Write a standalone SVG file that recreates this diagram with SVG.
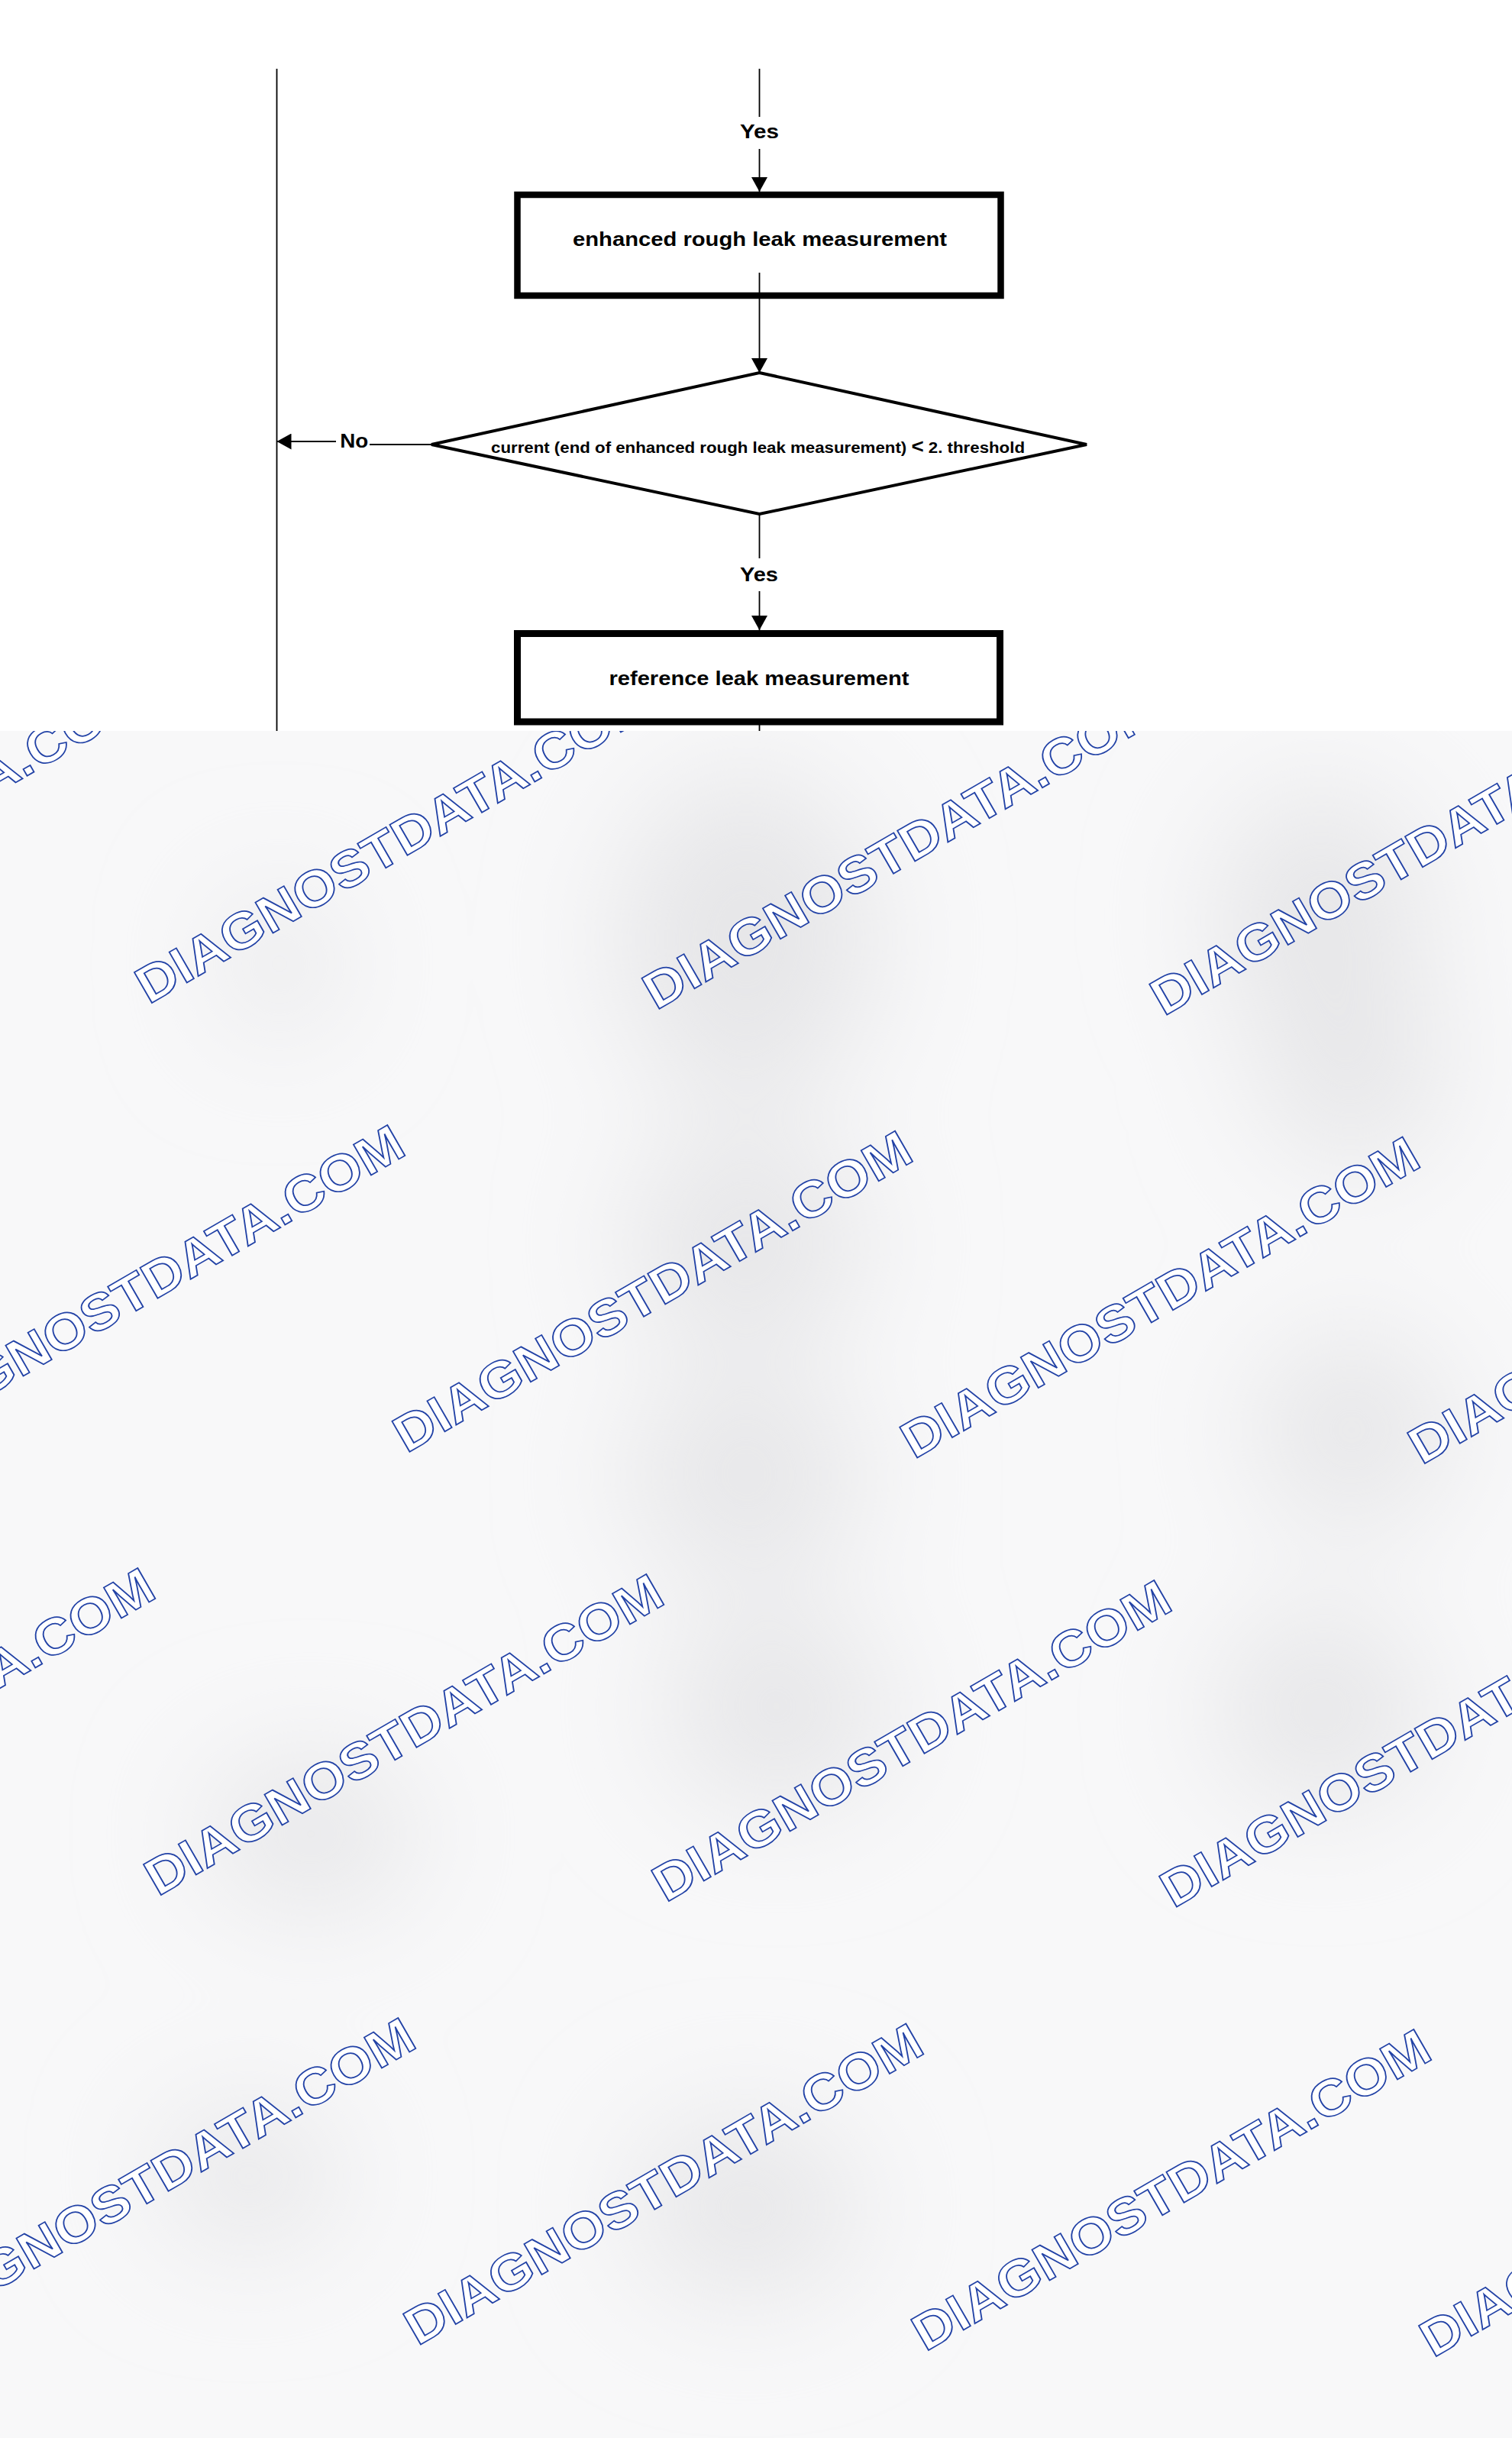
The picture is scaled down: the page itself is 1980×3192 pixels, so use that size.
<svg xmlns="http://www.w3.org/2000/svg" width="1980" height="3192" viewBox="0 0 1980 3192">
  <defs>
    <style>
      .node { fill: #ffffff; stroke: #000000; }
      .box { stroke-width: 8.5; stroke-linejoin: miter; }
      .dia { stroke-width: 4; stroke-linejoin: miter; }
      .lbl { font-family: "Liberation Sans", Arial, sans-serif; font-weight: bold; fill: #000000; text-anchor: middle; }
      .conn { fill: none; stroke: #000000; stroke-width: 1.8; }
      .wm { font-family: "Liberation Sans", Arial, sans-serif; font-weight: bold; font-size: 67px; fill: #ffffff; stroke: #2242a6; stroke-width: 1.7; }
    </style>
    <marker id="arr" viewBox="0 0 19 21" refX="19" refY="10.5" markerWidth="19" markerHeight="21" markerUnits="userSpaceOnUse" orient="auto">
      <path d="M0,0 L19,10.5 L0,21 z" fill="#000000"/>
    </marker>
    <clipPath id="lower">
      <rect x="0" y="957" width="1980" height="2235"/>
    </clipPath>
    <filter id="soft" x="-50%" y="-50%" width="200%" height="200%">
      <feGaussianBlur stdDeviation="80"/>
    </filter>
  </defs>

  <rect x="0" y="0" width="1980" height="3192" fill="#ffffff"/>

  <g id="background" clip-path="url(#lower)">
    <rect x="0" y="957" width="1980" height="2235" fill="#f8f8f9"/>
    <g filter="url(#soft)" fill="#e6e6e8">
      <ellipse cx="977" cy="1230" rx="170" ry="220"/>
      <ellipse cx="1730" cy="1200" rx="140" ry="170"/>
      <ellipse cx="366" cy="1262" rx="70" ry="90"/>
      <ellipse cx="977" cy="1628" rx="160" ry="140"/>
      <ellipse cx="1770" cy="1400" rx="120" ry="130"/>
      <ellipse cx="1770" cy="1872" rx="130" ry="130"/>
      <ellipse cx="977" cy="1933" rx="160" ry="130"/>
      <ellipse cx="407" cy="2401" rx="140" ry="100"/>
      <ellipse cx="326" cy="2849" rx="120" ry="90"/>
      <ellipse cx="1017" cy="2238" rx="150" ry="130"/>
      <ellipse cx="1730" cy="2238" rx="140" ry="130"/>
      <ellipse cx="977" cy="2890" rx="150" ry="120"/>
    </g>
  </g>

  <g id="watermark" clip-path="url(#lower)">
    <text class="wm" transform="translate(-465.7,1305.3) rotate(-30)" x="-5" y="0" textLength="770" lengthAdjust="spacingAndGlyphs">DIAGNOSTDATA.COM</text>
    <text class="wm" transform="translate(199,1313) rotate(-30)" x="-5" y="0" textLength="770" lengthAdjust="spacingAndGlyphs">DIAGNOSTDATA.COM</text>
    <text class="wm" transform="translate(863.7,1320.7) rotate(-30)" x="-5" y="0" textLength="770" lengthAdjust="spacingAndGlyphs">DIAGNOSTDATA.COM</text>
    <text class="wm" transform="translate(1528.4,1328.4) rotate(-30)" x="-5" y="0" textLength="770" lengthAdjust="spacingAndGlyphs">DIAGNOSTDATA.COM</text>

    <text class="wm" transform="translate(-128,1893) rotate(-30)" x="-5" y="0" textLength="770" lengthAdjust="spacingAndGlyphs">DIAGNOSTDATA.COM</text>
    <text class="wm" transform="translate(536.7,1900.7) rotate(-30)" x="-5" y="0" textLength="770" lengthAdjust="spacingAndGlyphs">DIAGNOSTDATA.COM</text>
    <text class="wm" transform="translate(1201.4,1908.4) rotate(-30)" x="-5" y="0" textLength="770" lengthAdjust="spacingAndGlyphs">DIAGNOSTDATA.COM</text>
    <text class="wm" transform="translate(1866.1,1916.1) rotate(-30)" x="-5" y="0" textLength="770" lengthAdjust="spacingAndGlyphs">DIAGNOSTDATA.COM</text>

    <text class="wm" transform="translate(-455,2473) rotate(-30)" x="-5" y="0" textLength="770" lengthAdjust="spacingAndGlyphs">DIAGNOSTDATA.COM</text>
    <text class="wm" transform="translate(211,2481) rotate(-30)" x="-5" y="0" textLength="770" lengthAdjust="spacingAndGlyphs">DIAGNOSTDATA.COM</text>
    <text class="wm" transform="translate(876,2489) rotate(-30)" x="-5" y="0" textLength="770" lengthAdjust="spacingAndGlyphs">DIAGNOSTDATA.COM</text>
    <text class="wm" transform="translate(1541,2496.5) rotate(-30)" x="-5" y="0" textLength="770" lengthAdjust="spacingAndGlyphs">DIAGNOSTDATA.COM</text>

    <text class="wm" transform="translate(-114,3062) rotate(-30)" x="-5" y="0" textLength="770" lengthAdjust="spacingAndGlyphs">DIAGNOSTDATA.COM</text>
    <text class="wm" transform="translate(551,3069.5) rotate(-30)" x="-5" y="0" textLength="770" lengthAdjust="spacingAndGlyphs">DIAGNOSTDATA.COM</text>
    <text class="wm" transform="translate(1216,3077) rotate(-30)" x="-5" y="0" textLength="770" lengthAdjust="spacingAndGlyphs">DIAGNOSTDATA.COM</text>
    <text class="wm" transform="translate(1881,3085) rotate(-30)" x="-5" y="0" textLength="770" lengthAdjust="spacingAndGlyphs">DIAGNOSTDATA.COM</text>
  </g>

  <g id="node-enhanced-rough-leak">
    <rect class="node box" x="677.5" y="255" width="633" height="132"/>
    <text class="lbl" x="995" y="322" font-size="26" textLength="490" lengthAdjust="spacingAndGlyphs">enhanced rough leak measurement</text>
  </g>

  <g id="node-current-decision">
    <polygon class="node dia" points="994.5,488 1423,582 994.5,673 565,582"/>
    <text class="lbl" x="992.5" y="593" font-size="20" textLength="699" lengthAdjust="spacingAndGlyphs">current (end of enhanced rough leak measurement) <tspan font-size="25">&lt;</tspan> 2. threshold</text>
  </g>

  <g id="node-reference-leak">
    <rect class="node box" x="677.5" y="829.5" width="632" height="115.5" style="stroke-width:9"/>
    <text class="lbl" x="994" y="897" font-size="26" textLength="393" lengthAdjust="spacingAndGlyphs">reference leak measurement</text>
  </g>

  <g id="connectors">
    <path class="conn" d="M362.5,90 V957"/>
    <path class="conn" d="M994.5,90 V153"/>
    <path class="conn" d="M994.5,195 V251" marker-end="url(#arr)"/>
    <path class="conn" d="M994.5,357 V488" marker-end="url(#arr)"/>
    <path class="conn" d="M994.5,673 V731"/>
    <path class="conn" d="M994.5,774 V825" marker-end="url(#arr)"/>
    <path class="conn" d="M994.5,945 V957"/>
    <path class="conn" d="M566,582 H484"/>
    <path class="conn" d="M440,578 H362.5" marker-end="url(#arr)"/>
    <text class="lbl" x="994.5" y="181" font-size="26" textLength="51" lengthAdjust="spacingAndGlyphs">Yes</text>
    <text class="lbl" x="994" y="761" font-size="26" textLength="50" lengthAdjust="spacingAndGlyphs">Yes</text>
    <text class="lbl" x="463.8" y="586" font-size="26" textLength="37" lengthAdjust="spacingAndGlyphs">No</text>
  </g>
</svg>
